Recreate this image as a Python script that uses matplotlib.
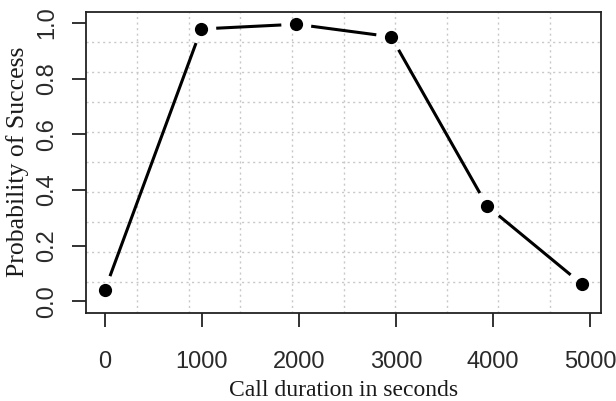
import numpy as np
import matplotlib.pyplot as plt

# values
duration = [3, 996, 1975, 2952, 3941, 4919]
prob = [0.040, 0.978, 0.995, 0.950, 0.342, 0.061]

x_ticks = [0, 1000, 2000, 3000, 4000, 5000]
y_ticks = [0.0, 0.2, 0.4, 0.6, 0.8, 1.0]

sans = ['Liberation Sans', 'DejaVu Sans']
serif = ['Liberation Serif', 'DejaVu Serif']

fig = plt.figure(figsize=(6.16, 4.01), dpi=100)
ax = fig.add_axes([85.7 / 616, 1 - 312.5 / 401, 515.6 / 616, 300.8 / 401])

# R style 4% padding around the data
xr = duration[-1] - duration[0]
ax.set_xlim(duration[0] - 0.04 * xr, duration[-1] + 0.04 * xr)
ax.set_ylim(-0.04, 1.04)

# grid splits the plot box in 10 equal parts, like grid(10, 10) in R
for f in np.arange(1, 10) / 10:
    ax.plot([f, f], [0, 1], transform=ax.transAxes, color='#c8c8c8',
            lw=1.0, ls=(0, (1.5, 2.5)), zorder=1)
    ax.plot([0, 1], [f, f], transform=ax.transAxes, color='#c8c8c8',
            lw=1.0, ls=(0, (1.5, 2.5)), zorder=1)

# type = "b": segments stop short of each point
gap = 15
pts = ax.transData.transform(np.column_stack([duration, prob]))
inv = ax.transData.inverted()
for (x0, y0), (x1, y1) in zip(pts[:-1], pts[1:]):
    d = np.hypot(x1 - x0, y1 - y0)
    ux, uy = (x1 - x0) / d, (y1 - y0) / d
    seg = inv.transform([(x0 + ux * gap, y0 + uy * gap),
                         (x1 - ux * gap, y1 - uy * gap)])
    ax.plot(seg[:, 0], seg[:, 1], color='black', lw=2.2, zorder=3,
            solid_capstyle='butt')
ax.plot(duration, prob, 'o', color='black', ms=8.5, zorder=4)

ax.set_xticks(x_ticks)
ax.set_yticks(y_ticks)
ax.set_xticklabels([str(v) for v in x_ticks], family=sans, fontsize=17,
                   color='#2a2a2a')
ax.set_yticklabels(['%.1f' % v for v in y_ticks], family=sans, fontsize=17,
                   rotation=90, va='center', color='#2a2a2a')
ax.tick_params(axis='both', length=10, width=1.3, color='#222222')
ax.tick_params(axis='x', pad=18)
ax.tick_params(axis='y', pad=10)

for sp in ax.spines.values():
    sp.set_color('#222222')
    sp.set_linewidth(1.3)

ax.set_xlabel('Call duration in seconds', family=serif, fontsize=17,
              color='#1a1a1a')
ax.set_ylabel('Probability of Success', family=serif, fontsize=18.5,
              color='#1a1a1a')
ax.xaxis.set_label_coords(0.5, -0.225)
ax.yaxis.set_label_coords(-0.11, 0.5)

fig.savefig('out.png', dpi=100)
